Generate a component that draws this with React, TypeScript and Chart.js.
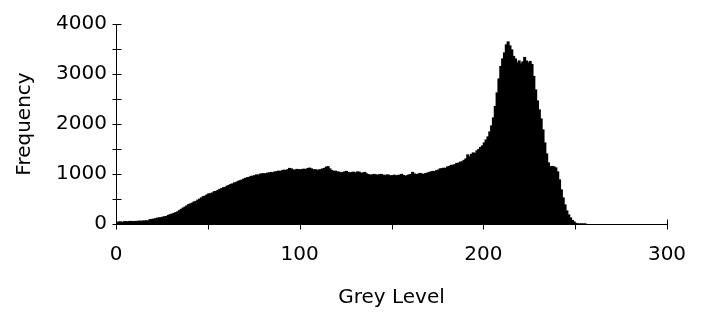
import React, { useEffect, useRef } from "react";
import { Chart, registerables } from "chart.js";

Chart.register(...registerables);

// Histogram: frequency of each grey level 0..255
const greyLevels: number[] = Array.from({ length: 256 }, (_, i) => i);
const frequency: number[] = [
  // 0-9
  20, 40, 40, 30, 45, 45, 40, 50, 50, 45,
  // 10-19
  50, 50, 55, 55, 55, 60, 60, 60, 85, 90,
  // 20-29
  95, 105, 115, 120, 125, 135, 145, 150, 170, 185,
  // 30-39
  195, 210, 225, 240, 265, 290, 315, 335, 360, 385,
  // 40-49
  400, 415, 440, 450, 475, 495, 520, 545, 555, 580,
  // 50-59
  600, 605, 620, 645, 650, 670, 690, 705, 725, 730,
  // 60-69
  755, 770, 790, 800, 820, 830, 850, 865, 875, 895,
  // 70-79
  910, 925, 930, 950, 955, 965, 980, 975, 995, 1000,
  // 80-89
  1005, 1000, 1015, 1020, 1030, 1025, 1040, 1045, 1055, 1050,
  // 90-99
  1065, 1075, 1070, 1085, 1110, 1100, 1080, 1075, 1090, 1085,
  // 100-109
  1080, 1090, 1095, 1085, 1110, 1115, 1100, 1080, 1085, 1070,
  // 110-119
  1080, 1085, 1100, 1110, 1135, 1145, 1100, 1070, 1050, 1055,
  // 120-129
  1040, 1035, 1020, 1030, 1040, 1050, 1030, 1020, 1030, 1035,
  // 130-139
  1020, 1040, 1035, 1010, 1020, 1030, 1000, 985, 975, 980,
  // 140-149
  990, 980, 975, 985, 990, 975, 965, 980, 975, 960,
  // 150-159
  965, 975, 960, 970, 975, 990, 970, 955, 965, 980,
  // 160-169
  990, 1030, 1000, 985, 995, 1010, 1000, 990, 1005, 1015,
  // 170-179
  1030, 1040, 1050, 1045, 1065, 1075, 1100, 1105, 1115, 1110,
  // 180-189
  1140, 1150, 1170, 1175, 1185, 1210, 1215, 1235, 1245, 1270,
  // 190-199
  1300, 1380, 1340, 1390, 1420, 1410, 1460, 1490, 1530, 1560,
  // 200-209
  1620, 1680, 1740, 1840, 1960, 2120, 2350, 2620, 2900, 3150,
  // 210-219
  3300, 3420, 3580, 3640, 3560, 3480, 3350, 3300, 3220, 3260,
  // 220-229
  3200, 3240, 3330, 3260, 3220, 3250, 3190, 2950, 2680, 2460,
  // 230-239
  2280, 2100, 1880, 1620, 1400, 1220, 1140, 1150, 1140, 1120,
  // 240-249
  1040, 880, 680, 520, 380, 260, 180, 120, 70, 40,
  // 250-255
  10, 0, 0, 0, 0, 0,
];

const xMin = 0;
const xMax = 300;
const xStep = 50;
const xLabelEvery = 100;
const yMin = 0;
const yMax = 4000;
const yStep = 500;
const yLabelEvery = 1000;

const FONT = { family: "'DejaVu Sans', sans-serif", size: 20 };

const axisPlugin = {
  id: "axisCrosses",
  afterDraw(chart: any) {
    const { ctx, chartArea } = chart;
    const xs = chart.scales.x;
    const ys = chart.scales.y;
    const left = Math.round(chartArea.left) + 0.5;
    const bottom = Math.round(chartArea.bottom) + 0.5;
    ctx.save();
    ctx.strokeStyle = "#000";
    ctx.lineWidth = 1;
    ctx.beginPath();
    ctx.moveTo(left, Math.round(ys.getPixelForValue(yMax)) + 0.5);
    ctx.lineTo(left, bottom);
    ctx.moveTo(left, bottom);
    ctx.lineTo(Math.round(xs.getPixelForValue(xMax)) + 0.5, bottom);
    ys.ticks.forEach((t: any) => {
      const y = Math.round(ys.getPixelForValue(t.value)) + 0.5;
      ctx.moveTo(left - 4, y);
      ctx.lineTo(left + 5, y);
    });
    xs.ticks.forEach((t: any) => {
      const x = Math.round(xs.getPixelForValue(t.value)) + 0.5;
      const isEnd = t.value === xMin || t.value === xMax;
      ctx.moveTo(x, isEnd ? bottom - 5 : bottom);
      ctx.lineTo(x, bottom + 5);
    });
    ctx.stroke();
    ctx.restore();
  },
};

export default function App() {
  const canvasRef = useRef<HTMLCanvasElement | null>(null);

  useEffect(() => {
    if (!canvasRef.current) return;
    Chart.defaults.color = "#000";
    const chart = new Chart(canvasRef.current, {
      type: "bar",
      data: {
        datasets: [
          {
            data: greyLevels.map((g, i) => ({ x: g + 0.5, y: frequency[i] })),
            backgroundColor: "#000",
            borderWidth: 0,
            barPercentage: 1,
            categoryPercentage: 1,
            inflateAmount: 0.6,
          },
        ],
      },
      options: {
        animation: false,
        responsive: true,
        maintainAspectRatio: false,
        layout: { padding: { top: 24, right: 35, left: 0, bottom: 0 } },
        plugins: {
          legend: { display: false },
          tooltip: { enabled: false },
        },
        scales: {
          x: {
            type: "linear",
            min: xMin,
            max: xMax,
            offset: false,
            grid: { display: false, drawTicks: true, tickLength: 8 },
            border: { display: false },
            ticks: {
              stepSize: xStep,
              autoSkip: false,
              maxRotation: 0,
              padding: 11,
              font: FONT,
              color: "#000",
              callback: (v: any) => (Number(v) % xLabelEvery === 0 ? String(v) : ""),
            },
            title: {
              display: true,
              text: "Grey Level",
              font: FONT,
              color: "#000",
              padding: 2,
            },
            afterFit: (s: any) => {
              s.height = 88;
            },
          },
          y: {
            min: yMin,
            max: yMax,
            grid: { display: false, drawTicks: false },
            border: { display: false },
            ticks: {
              stepSize: yStep,
              autoSkip: false,
              padding: 9,
              font: FONT,
              color: "#000",
              callback: (v: any) => (Number(v) % yLabelEvery === 0 ? String(v) : ""),
            },
            title: {
              display: true,
              text: "Frequency",
              font: FONT,
              color: "#000",
              padding: 13,
            },
            afterFit: (s: any) => {
              s.width = 116;
            },
          },
        },
      },
      plugins: [axisPlugin],
    });
    return () => chart.destroy();
  }, []);

  return (
    <div style={{ position: "absolute", left: 0, top: 0, width: 702, height: 312, background: "#fff" }}>
      <canvas ref={canvasRef} />
    </div>
  );
}
